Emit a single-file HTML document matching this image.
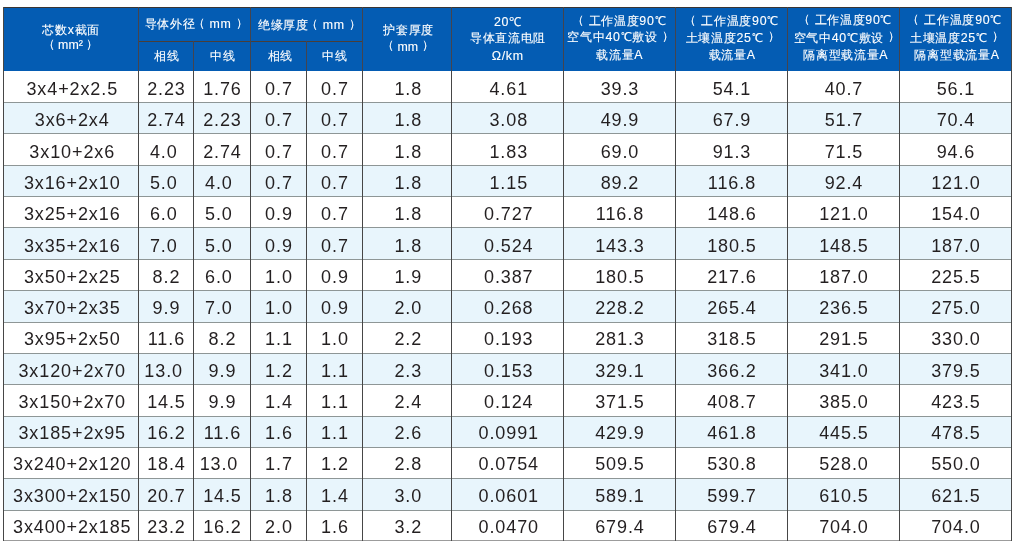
<!DOCTYPE html>
<html><head><meta charset="utf-8"><style>
html,body{margin:0;padding:0;background:#fff;}
body{width:1014px;height:541px;position:relative;overflow:hidden;-webkit-font-smoothing:antialiased;font-family:"Liberation Sans",sans-serif;}
.a{position:absolute;}
#wrap{position:absolute;left:0;top:0;width:1014px;height:541px;will-change:transform;}
.c{position:absolute;display:flex;flex-direction:column;align-items:center;justify-content:center;text-align:center;white-space:nowrap;}
.b{font-size:18px;letter-spacing:0.9px;color:#231f20;}
.h{font-size:12.4px;letter-spacing:0.7px;color:#fff;-webkit-text-stroke:0.12px #fff;}
.pm{margin-left:-3px;}
.ns{letter-spacing:0;}
.h>div{position:relative;height:16px;line-height:16px;margin-right:-0.7px;}
.h3>div{height:16.7px;line-height:16.7px;}
.p{position:relative;top:-1.5px;}
</style></head><body><div id="wrap">

<div class="a" style="left:3px;top:7px;width:1008px;height:64px;background:#045cb3"></div>
<div class="a" style="left:3px;top:102px;width:1008px;height:31px;background:#e8f5fc"></div>
<div class="a" style="left:3px;top:165px;width:1008px;height:31px;background:#e8f5fc"></div>
<div class="a" style="left:3px;top:227px;width:1008px;height:32px;background:#e8f5fc"></div>
<div class="a" style="left:3px;top:290px;width:1008px;height:32px;background:#e8f5fc"></div>
<div class="a" style="left:3px;top:353px;width:1008px;height:31px;background:#e8f5fc"></div>
<div class="a" style="left:3px;top:416px;width:1008px;height:31px;background:#e8f5fc"></div>
<div class="a" style="left:3px;top:478px;width:1008px;height:32px;background:#e8f5fc"></div>
<div class="a" style="left:3px;top:102px;width:1008px;height:1px;background:#8e9696"></div>
<div class="a" style="left:3px;top:133px;width:1008px;height:1px;background:#8e9696"></div>
<div class="a" style="left:3px;top:165px;width:1008px;height:1px;background:#8e9696"></div>
<div class="a" style="left:3px;top:196px;width:1008px;height:1px;background:#8e9696"></div>
<div class="a" style="left:3px;top:227px;width:1008px;height:1px;background:#8e9696"></div>
<div class="a" style="left:3px;top:259px;width:1008px;height:1px;background:#8e9696"></div>
<div class="a" style="left:3px;top:290px;width:1008px;height:1px;background:#8e9696"></div>
<div class="a" style="left:3px;top:322px;width:1008px;height:1px;background:#8e9696"></div>
<div class="a" style="left:3px;top:353px;width:1008px;height:1px;background:#8e9696"></div>
<div class="a" style="left:3px;top:384px;width:1008px;height:1px;background:#8e9696"></div>
<div class="a" style="left:3px;top:416px;width:1008px;height:1px;background:#8e9696"></div>
<div class="a" style="left:3px;top:447px;width:1008px;height:1px;background:#8e9696"></div>
<div class="a" style="left:3px;top:478px;width:1008px;height:1px;background:#8e9696"></div>
<div class="a" style="left:3px;top:510px;width:1008px;height:1px;background:#8e9696"></div>
<div class="a" style="left:3px;top:7px;width:1009px;height:1px;background:#3b3633"></div>
<div class="a" style="left:3px;top:540px;width:1009px;height:1px;background:#9c9c9c"></div>
<div class="a" style="left:138px;top:41px;width:224px;height:1px;background:#4a3e38"></div>
<div class="a" style="left:3px;top:7px;width:1px;height:534px;background:#464646"></div>
<div class="a" style="left:138px;top:7px;width:1px;height:64px;background:#45444d"></div>
<div class="a" style="left:138px;top:71px;width:1px;height:470px;background:#464646"></div>
<div class="a" style="left:193px;top:41px;width:1px;height:30px;background:#45444d"></div>
<div class="a" style="left:193px;top:71px;width:1px;height:470px;background:#464646"></div>
<div class="a" style="left:250px;top:7px;width:1px;height:64px;background:#45444d"></div>
<div class="a" style="left:250px;top:71px;width:1px;height:470px;background:#464646"></div>
<div class="a" style="left:306px;top:41px;width:1px;height:30px;background:#45444d"></div>
<div class="a" style="left:306px;top:71px;width:1px;height:470px;background:#464646"></div>
<div class="a" style="left:362px;top:7px;width:1px;height:64px;background:#45444d"></div>
<div class="a" style="left:362px;top:71px;width:1px;height:470px;background:#464646"></div>
<div class="a" style="left:451px;top:7px;width:1px;height:64px;background:#45444d"></div>
<div class="a" style="left:451px;top:71px;width:1px;height:470px;background:#464646"></div>
<div class="a" style="left:563px;top:7px;width:1px;height:64px;background:#45444d"></div>
<div class="a" style="left:563px;top:71px;width:1px;height:470px;background:#464646"></div>
<div class="a" style="left:675px;top:7px;width:1px;height:64px;background:#45444d"></div>
<div class="a" style="left:675px;top:71px;width:1px;height:470px;background:#464646"></div>
<div class="a" style="left:787px;top:7px;width:1px;height:64px;background:#45444d"></div>
<div class="a" style="left:787px;top:71px;width:1px;height:470px;background:#464646"></div>
<div class="a" style="left:899px;top:7px;width:1px;height:64px;background:#45444d"></div>
<div class="a" style="left:899px;top:71px;width:1px;height:470px;background:#464646"></div>
<div class="a" style="left:1011px;top:7px;width:1px;height:534px;background:#464646"></div>
<div class="c h" style="left:4px;top:8px;width:134px;height:62px;"><div id="c0l1" style="left:-0.20px;top:-1.00px">芯数x截面</div><div id="c0l2" style="left:-0.90px;top:-1.60px"><span class="ns"><span class="p">（</span> mm² <span class="p">）</span></span></div></div>
<div class="c h" style="left:139px;top:8px;width:111px;height:33px;"><div id="g1" style="left:1.70px;top:-0.40px">导体外径<span class="pm"></span><span class="p">（</span> mm <span class="p">）</span></div></div>
<div class="c h" style="left:251px;top:8px;width:111px;height:33px;"><div id="g2" style="left:3.00px;top:0.60px">绝缘厚度<span class="pm"></span><span class="p">（</span> mm <span class="p">）</span></div></div>
<div class="c h" style="left:139px;top:42px;width:54px;height:28px;"><div id="s1" style="left:0.80px;top:0.40px">相线</div></div>
<div class="c h" style="left:194px;top:42px;width:56px;height:28px;"><div id="s2" style="left:0.30px;top:-0.30px">中线</div></div>
<div class="c h" style="left:251px;top:42px;width:55px;height:28px;"><div id="s3" style="left:1.60px;top:-0.30px">相线</div></div>
<div class="c h" style="left:307px;top:42px;width:55px;height:28px;"><div id="s4" style="left:0.10px;top:-0.30px">中线</div></div>
<div class="c h" style="left:363px;top:8px;width:88px;height:62px;"><div id="c5l1" style="left:1.20px;top:-0.90px">护套厚度</div><div id="c5l2" style="left:0.40px;top:-0.40px"><span class="ns"><span class="p">（</span> mm <span class="p">）</span></span></div></div>
<div class="c h h3" style="left:452px;top:8px;width:111px;height:62px;"><div id="c6l1" style="left:0.00px;top:-0.40px">20℃</div><div id="c6l2" style="left:0.10px;top:-0.80px">导体直流电阻</div><div id="c6l3" style="left:-0.10px;top:0.20px">Ω/km</div></div>
<div class="c h h3" style="left:564px;top:8px;width:111px;height:62px;"><div id="c7l1" style="left:-0.90px;top:-0.60px"><span class="p">（</span> 工作温度90℃</div><div id="c7l2" style="left:1.20px;top:-1.20px">空气中40℃敷设 <span class="p">）</span></div><div id="c7l3" style="left:-0.10px;top:-0.40px">载流量A</div></div>
<div class="c h h3" style="left:676px;top:8px;width:111px;height:62px;"><div id="c8l1" style="left:-0.20px;top:-0.60px"><span class="p">（</span> 工作温度90℃</div><div id="c8l2" style="left:1.10px;top:-1.00px">土壤温度25℃ <span class="p">）</span></div><div id="c8l3" style="left:0.30px;top:-0.40px">载流量A</div></div>
<div class="c h h3" style="left:788px;top:8px;width:111px;height:62px;"><div id="c9l1" style="left:1.10px;top:-1.60px"><span class="p">（</span> 工作温度90℃</div><div id="c9l2" style="left:3.40px;top:-1.00px">空气中40℃敷设 <span class="p">）</span></div><div id="c9l3" style="left:1.90px;top:-0.20px">隔离型载流量A</div></div>
<div class="c h h3" style="left:900px;top:8px;width:111px;height:62px;"><div id="c10l1" style="left:-1.10px;top:-1.60px"><span class="p">（</span> 工作温度90℃</div><div id="c10l2" style="left:1.30px;top:-1.00px">土壤温度25℃ <span class="p">）</span></div><div id="c10l3" style="left:1.20px;top:-0.20px">隔离型载流量A</div></div>
<div class="a b" style="left:4.80px;top:79.10px;width:134px;height:20px;line-height:20px;text-align:center;white-space:nowrap"><span style="margin-right:-0.9px">3x4+2x2.5</span></div>
<div class="a b" style="left:139.00px;top:79.10px;width:54px;height:20px;line-height:20px;text-align:center;white-space:nowrap"><span style="margin-right:-0.9px">2.23</span></div>
<div class="a b" style="left:194.00px;top:79.10px;width:56px;height:20px;line-height:20px;text-align:center;white-space:nowrap"><span style="margin-right:-0.9px">1.76</span></div>
<div class="a b" style="left:251.00px;top:79.10px;width:55px;height:20px;line-height:20px;text-align:center;white-space:nowrap"><span style="margin-right:-0.9px">0.7</span></div>
<div class="a b" style="left:307.00px;top:79.10px;width:55px;height:20px;line-height:20px;text-align:center;white-space:nowrap"><span style="margin-right:-0.9px">0.7</span></div>
<div class="a b" style="left:363.80px;top:79.10px;width:88px;height:20px;line-height:20px;text-align:center;white-space:nowrap"><span style="margin-right:-0.9px">1.8</span></div>
<div class="a b" style="left:452.80px;top:79.10px;width:111px;height:20px;line-height:20px;text-align:center;white-space:nowrap"><span style="margin-right:-0.9px">4.61</span></div>
<div class="a b" style="left:564.00px;top:79.10px;width:111px;height:20px;line-height:20px;text-align:center;white-space:nowrap"><span style="margin-right:-0.9px">39.3</span></div>
<div class="a b" style="left:676.00px;top:79.10px;width:111px;height:20px;line-height:20px;text-align:center;white-space:nowrap"><span style="margin-right:-0.9px">54.1</span></div>
<div class="a b" style="left:788.00px;top:79.10px;width:111px;height:20px;line-height:20px;text-align:center;white-space:nowrap"><span style="margin-right:-0.9px">40.7</span></div>
<div class="a b" style="left:900.00px;top:79.10px;width:111px;height:20px;line-height:20px;text-align:center;white-space:nowrap"><span style="margin-right:-0.9px">56.1</span></div>
<div class="a b" style="left:4.80px;top:110.38px;width:134px;height:20px;line-height:20px;text-align:center;white-space:nowrap"><span style="margin-right:-0.9px">3x6+2x4</span></div>
<div class="a b" style="left:139.00px;top:110.38px;width:54px;height:20px;line-height:20px;text-align:center;white-space:nowrap"><span style="margin-right:-0.9px">2.74</span></div>
<div class="a b" style="left:194.00px;top:110.38px;width:56px;height:20px;line-height:20px;text-align:center;white-space:nowrap"><span style="margin-right:-0.9px">2.23</span></div>
<div class="a b" style="left:251.00px;top:110.38px;width:55px;height:20px;line-height:20px;text-align:center;white-space:nowrap"><span style="margin-right:-0.9px">0.7</span></div>
<div class="a b" style="left:307.00px;top:110.38px;width:55px;height:20px;line-height:20px;text-align:center;white-space:nowrap"><span style="margin-right:-0.9px">0.7</span></div>
<div class="a b" style="left:363.80px;top:110.38px;width:88px;height:20px;line-height:20px;text-align:center;white-space:nowrap"><span style="margin-right:-0.9px">1.8</span></div>
<div class="a b" style="left:452.80px;top:110.38px;width:111px;height:20px;line-height:20px;text-align:center;white-space:nowrap"><span style="margin-right:-0.9px">3.08</span></div>
<div class="a b" style="left:564.00px;top:110.38px;width:111px;height:20px;line-height:20px;text-align:center;white-space:nowrap"><span style="margin-right:-0.9px">49.9</span></div>
<div class="a b" style="left:676.00px;top:110.38px;width:111px;height:20px;line-height:20px;text-align:center;white-space:nowrap"><span style="margin-right:-0.9px">67.9</span></div>
<div class="a b" style="left:788.00px;top:110.38px;width:111px;height:20px;line-height:20px;text-align:center;white-space:nowrap"><span style="margin-right:-0.9px">51.7</span></div>
<div class="a b" style="left:900.00px;top:110.38px;width:111px;height:20px;line-height:20px;text-align:center;white-space:nowrap"><span style="margin-right:-0.9px">70.4</span></div>
<div class="a b" style="left:4.80px;top:141.66px;width:134px;height:20px;line-height:20px;text-align:center;white-space:nowrap"><span style="margin-right:-0.9px">3x10+2x6</span></div>
<div class="a b" style="left:136.30px;top:141.66px;width:54px;height:20px;line-height:20px;text-align:center;white-space:nowrap"><span style="margin-right:-0.9px">4.0</span></div>
<div class="a b" style="left:194.00px;top:141.66px;width:56px;height:20px;line-height:20px;text-align:center;white-space:nowrap"><span style="margin-right:-0.9px">2.74</span></div>
<div class="a b" style="left:251.00px;top:141.66px;width:55px;height:20px;line-height:20px;text-align:center;white-space:nowrap"><span style="margin-right:-0.9px">0.7</span></div>
<div class="a b" style="left:307.00px;top:141.66px;width:55px;height:20px;line-height:20px;text-align:center;white-space:nowrap"><span style="margin-right:-0.9px">0.7</span></div>
<div class="a b" style="left:363.80px;top:141.66px;width:88px;height:20px;line-height:20px;text-align:center;white-space:nowrap"><span style="margin-right:-0.9px">1.8</span></div>
<div class="a b" style="left:452.80px;top:141.66px;width:111px;height:20px;line-height:20px;text-align:center;white-space:nowrap"><span style="margin-right:-0.9px">1.83</span></div>
<div class="a b" style="left:564.00px;top:141.66px;width:111px;height:20px;line-height:20px;text-align:center;white-space:nowrap"><span style="margin-right:-0.9px">69.0</span></div>
<div class="a b" style="left:676.00px;top:141.66px;width:111px;height:20px;line-height:20px;text-align:center;white-space:nowrap"><span style="margin-right:-0.9px">91.3</span></div>
<div class="a b" style="left:788.00px;top:141.66px;width:111px;height:20px;line-height:20px;text-align:center;white-space:nowrap"><span style="margin-right:-0.9px">71.5</span></div>
<div class="a b" style="left:900.00px;top:141.66px;width:111px;height:20px;line-height:20px;text-align:center;white-space:nowrap"><span style="margin-right:-0.9px">94.6</span></div>
<div class="a b" style="left:4.80px;top:172.94px;width:134px;height:20px;line-height:20px;text-align:center;white-space:nowrap"><span style="margin-right:-0.9px">3x16+2x10</span></div>
<div class="a b" style="left:136.30px;top:172.94px;width:54px;height:20px;line-height:20px;text-align:center;white-space:nowrap"><span style="margin-right:-0.9px">5.0</span></div>
<div class="a b" style="left:190.40px;top:172.94px;width:56px;height:20px;line-height:20px;text-align:center;white-space:nowrap"><span style="margin-right:-0.9px">4.0</span></div>
<div class="a b" style="left:251.00px;top:172.94px;width:55px;height:20px;line-height:20px;text-align:center;white-space:nowrap"><span style="margin-right:-0.9px">0.7</span></div>
<div class="a b" style="left:307.00px;top:172.94px;width:55px;height:20px;line-height:20px;text-align:center;white-space:nowrap"><span style="margin-right:-0.9px">0.7</span></div>
<div class="a b" style="left:363.80px;top:172.94px;width:88px;height:20px;line-height:20px;text-align:center;white-space:nowrap"><span style="margin-right:-0.9px">1.8</span></div>
<div class="a b" style="left:452.80px;top:172.94px;width:111px;height:20px;line-height:20px;text-align:center;white-space:nowrap"><span style="margin-right:-0.9px">1.15</span></div>
<div class="a b" style="left:564.00px;top:172.94px;width:111px;height:20px;line-height:20px;text-align:center;white-space:nowrap"><span style="margin-right:-0.9px">89.2</span></div>
<div class="a b" style="left:676.00px;top:172.94px;width:111px;height:20px;line-height:20px;text-align:center;white-space:nowrap"><span style="margin-right:-0.9px">116.8</span></div>
<div class="a b" style="left:788.00px;top:172.94px;width:111px;height:20px;line-height:20px;text-align:center;white-space:nowrap"><span style="margin-right:-0.9px">92.4</span></div>
<div class="a b" style="left:900.00px;top:172.94px;width:111px;height:20px;line-height:20px;text-align:center;white-space:nowrap"><span style="margin-right:-0.9px">121.0</span></div>
<div class="a b" style="left:4.80px;top:204.22px;width:134px;height:20px;line-height:20px;text-align:center;white-space:nowrap"><span style="margin-right:-0.9px">3x25+2x16</span></div>
<div class="a b" style="left:136.30px;top:204.22px;width:54px;height:20px;line-height:20px;text-align:center;white-space:nowrap"><span style="margin-right:-0.9px">6.0</span></div>
<div class="a b" style="left:190.40px;top:204.22px;width:56px;height:20px;line-height:20px;text-align:center;white-space:nowrap"><span style="margin-right:-0.9px">5.0</span></div>
<div class="a b" style="left:251.00px;top:204.22px;width:55px;height:20px;line-height:20px;text-align:center;white-space:nowrap"><span style="margin-right:-0.9px">0.9</span></div>
<div class="a b" style="left:307.00px;top:204.22px;width:55px;height:20px;line-height:20px;text-align:center;white-space:nowrap"><span style="margin-right:-0.9px">0.7</span></div>
<div class="a b" style="left:363.80px;top:204.22px;width:88px;height:20px;line-height:20px;text-align:center;white-space:nowrap"><span style="margin-right:-0.9px">1.8</span></div>
<div class="a b" style="left:452.80px;top:204.22px;width:111px;height:20px;line-height:20px;text-align:center;white-space:nowrap"><span style="margin-right:-0.9px">0.727</span></div>
<div class="a b" style="left:564.00px;top:204.22px;width:111px;height:20px;line-height:20px;text-align:center;white-space:nowrap"><span style="margin-right:-0.9px">116.8</span></div>
<div class="a b" style="left:676.00px;top:204.22px;width:111px;height:20px;line-height:20px;text-align:center;white-space:nowrap"><span style="margin-right:-0.9px">148.6</span></div>
<div class="a b" style="left:788.00px;top:204.22px;width:111px;height:20px;line-height:20px;text-align:center;white-space:nowrap"><span style="margin-right:-0.9px">121.0</span></div>
<div class="a b" style="left:900.00px;top:204.22px;width:111px;height:20px;line-height:20px;text-align:center;white-space:nowrap"><span style="margin-right:-0.9px">154.0</span></div>
<div class="a b" style="left:4.80px;top:235.50px;width:134px;height:20px;line-height:20px;text-align:center;white-space:nowrap"><span style="margin-right:-0.9px">3x35+2x16</span></div>
<div class="a b" style="left:136.30px;top:235.50px;width:54px;height:20px;line-height:20px;text-align:center;white-space:nowrap"><span style="margin-right:-0.9px">7.0</span></div>
<div class="a b" style="left:190.40px;top:235.50px;width:56px;height:20px;line-height:20px;text-align:center;white-space:nowrap"><span style="margin-right:-0.9px">5.0</span></div>
<div class="a b" style="left:251.00px;top:235.50px;width:55px;height:20px;line-height:20px;text-align:center;white-space:nowrap"><span style="margin-right:-0.9px">0.9</span></div>
<div class="a b" style="left:307.00px;top:235.50px;width:55px;height:20px;line-height:20px;text-align:center;white-space:nowrap"><span style="margin-right:-0.9px">0.7</span></div>
<div class="a b" style="left:363.80px;top:235.50px;width:88px;height:20px;line-height:20px;text-align:center;white-space:nowrap"><span style="margin-right:-0.9px">1.8</span></div>
<div class="a b" style="left:452.80px;top:235.50px;width:111px;height:20px;line-height:20px;text-align:center;white-space:nowrap"><span style="margin-right:-0.9px">0.524</span></div>
<div class="a b" style="left:564.00px;top:235.50px;width:111px;height:20px;line-height:20px;text-align:center;white-space:nowrap"><span style="margin-right:-0.9px">143.3</span></div>
<div class="a b" style="left:676.00px;top:235.50px;width:111px;height:20px;line-height:20px;text-align:center;white-space:nowrap"><span style="margin-right:-0.9px">180.5</span></div>
<div class="a b" style="left:788.00px;top:235.50px;width:111px;height:20px;line-height:20px;text-align:center;white-space:nowrap"><span style="margin-right:-0.9px">148.5</span></div>
<div class="a b" style="left:900.00px;top:235.50px;width:111px;height:20px;line-height:20px;text-align:center;white-space:nowrap"><span style="margin-right:-0.9px">187.0</span></div>
<div class="a b" style="left:4.80px;top:266.78px;width:134px;height:20px;line-height:20px;text-align:center;white-space:nowrap"><span style="margin-right:-0.9px">3x50+2x25</span></div>
<div class="a b" style="left:139.00px;top:266.78px;width:54px;height:20px;line-height:20px;text-align:center;white-space:nowrap"><span style="margin-right:-0.9px">8.2</span></div>
<div class="a b" style="left:190.40px;top:266.78px;width:56px;height:20px;line-height:20px;text-align:center;white-space:nowrap"><span style="margin-right:-0.9px">6.0</span></div>
<div class="a b" style="left:251.00px;top:266.78px;width:55px;height:20px;line-height:20px;text-align:center;white-space:nowrap"><span style="margin-right:-0.9px">1.0</span></div>
<div class="a b" style="left:307.00px;top:266.78px;width:55px;height:20px;line-height:20px;text-align:center;white-space:nowrap"><span style="margin-right:-0.9px">0.9</span></div>
<div class="a b" style="left:363.80px;top:266.78px;width:88px;height:20px;line-height:20px;text-align:center;white-space:nowrap"><span style="margin-right:-0.9px">1.9</span></div>
<div class="a b" style="left:452.80px;top:266.78px;width:111px;height:20px;line-height:20px;text-align:center;white-space:nowrap"><span style="margin-right:-0.9px">0.387</span></div>
<div class="a b" style="left:564.00px;top:266.78px;width:111px;height:20px;line-height:20px;text-align:center;white-space:nowrap"><span style="margin-right:-0.9px">180.5</span></div>
<div class="a b" style="left:676.00px;top:266.78px;width:111px;height:20px;line-height:20px;text-align:center;white-space:nowrap"><span style="margin-right:-0.9px">217.6</span></div>
<div class="a b" style="left:788.00px;top:266.78px;width:111px;height:20px;line-height:20px;text-align:center;white-space:nowrap"><span style="margin-right:-0.9px">187.0</span></div>
<div class="a b" style="left:900.00px;top:266.78px;width:111px;height:20px;line-height:20px;text-align:center;white-space:nowrap"><span style="margin-right:-0.9px">225.5</span></div>
<div class="a b" style="left:4.80px;top:298.06px;width:134px;height:20px;line-height:20px;text-align:center;white-space:nowrap"><span style="margin-right:-0.9px">3x70+2x35</span></div>
<div class="a b" style="left:139.00px;top:298.06px;width:54px;height:20px;line-height:20px;text-align:center;white-space:nowrap"><span style="margin-right:-0.9px">9.9</span></div>
<div class="a b" style="left:190.40px;top:298.06px;width:56px;height:20px;line-height:20px;text-align:center;white-space:nowrap"><span style="margin-right:-0.9px">7.0</span></div>
<div class="a b" style="left:251.00px;top:298.06px;width:55px;height:20px;line-height:20px;text-align:center;white-space:nowrap"><span style="margin-right:-0.9px">1.0</span></div>
<div class="a b" style="left:307.00px;top:298.06px;width:55px;height:20px;line-height:20px;text-align:center;white-space:nowrap"><span style="margin-right:-0.9px">0.9</span></div>
<div class="a b" style="left:363.80px;top:298.06px;width:88px;height:20px;line-height:20px;text-align:center;white-space:nowrap"><span style="margin-right:-0.9px">2.0</span></div>
<div class="a b" style="left:452.80px;top:298.06px;width:111px;height:20px;line-height:20px;text-align:center;white-space:nowrap"><span style="margin-right:-0.9px">0.268</span></div>
<div class="a b" style="left:564.00px;top:298.06px;width:111px;height:20px;line-height:20px;text-align:center;white-space:nowrap"><span style="margin-right:-0.9px">228.2</span></div>
<div class="a b" style="left:676.00px;top:298.06px;width:111px;height:20px;line-height:20px;text-align:center;white-space:nowrap"><span style="margin-right:-0.9px">265.4</span></div>
<div class="a b" style="left:788.00px;top:298.06px;width:111px;height:20px;line-height:20px;text-align:center;white-space:nowrap"><span style="margin-right:-0.9px">236.5</span></div>
<div class="a b" style="left:900.00px;top:298.06px;width:111px;height:20px;line-height:20px;text-align:center;white-space:nowrap"><span style="margin-right:-0.9px">275.0</span></div>
<div class="a b" style="left:4.80px;top:329.34px;width:134px;height:20px;line-height:20px;text-align:center;white-space:nowrap"><span style="margin-right:-0.9px">3x95+2x50</span></div>
<div class="a b" style="left:139.00px;top:329.34px;width:54px;height:20px;line-height:20px;text-align:center;white-space:nowrap"><span style="margin-right:-0.9px">11.6</span></div>
<div class="a b" style="left:194.00px;top:329.34px;width:56px;height:20px;line-height:20px;text-align:center;white-space:nowrap"><span style="margin-right:-0.9px">8.2</span></div>
<div class="a b" style="left:251.00px;top:329.34px;width:55px;height:20px;line-height:20px;text-align:center;white-space:nowrap"><span style="margin-right:-0.9px">1.1</span></div>
<div class="a b" style="left:307.00px;top:329.34px;width:55px;height:20px;line-height:20px;text-align:center;white-space:nowrap"><span style="margin-right:-0.9px">1.0</span></div>
<div class="a b" style="left:363.80px;top:329.34px;width:88px;height:20px;line-height:20px;text-align:center;white-space:nowrap"><span style="margin-right:-0.9px">2.2</span></div>
<div class="a b" style="left:452.80px;top:329.34px;width:111px;height:20px;line-height:20px;text-align:center;white-space:nowrap"><span style="margin-right:-0.9px">0.193</span></div>
<div class="a b" style="left:564.00px;top:329.34px;width:111px;height:20px;line-height:20px;text-align:center;white-space:nowrap"><span style="margin-right:-0.9px">281.3</span></div>
<div class="a b" style="left:676.00px;top:329.34px;width:111px;height:20px;line-height:20px;text-align:center;white-space:nowrap"><span style="margin-right:-0.9px">318.5</span></div>
<div class="a b" style="left:788.00px;top:329.34px;width:111px;height:20px;line-height:20px;text-align:center;white-space:nowrap"><span style="margin-right:-0.9px">291.5</span></div>
<div class="a b" style="left:900.00px;top:329.34px;width:111px;height:20px;line-height:20px;text-align:center;white-space:nowrap"><span style="margin-right:-0.9px">330.0</span></div>
<div class="a b" style="left:4.80px;top:360.62px;width:134px;height:20px;line-height:20px;text-align:center;white-space:nowrap"><span style="margin-right:-0.9px">3x120+2x70</span></div>
<div class="a b" style="left:136.20px;top:360.62px;width:54px;height:20px;line-height:20px;text-align:center;white-space:nowrap"><span style="margin-right:-0.9px">13.0</span></div>
<div class="a b" style="left:194.00px;top:360.62px;width:56px;height:20px;line-height:20px;text-align:center;white-space:nowrap"><span style="margin-right:-0.9px">9.9</span></div>
<div class="a b" style="left:251.00px;top:360.62px;width:55px;height:20px;line-height:20px;text-align:center;white-space:nowrap"><span style="margin-right:-0.9px">1.2</span></div>
<div class="a b" style="left:307.00px;top:360.62px;width:55px;height:20px;line-height:20px;text-align:center;white-space:nowrap"><span style="margin-right:-0.9px">1.1</span></div>
<div class="a b" style="left:363.80px;top:360.62px;width:88px;height:20px;line-height:20px;text-align:center;white-space:nowrap"><span style="margin-right:-0.9px">2.3</span></div>
<div class="a b" style="left:452.80px;top:360.62px;width:111px;height:20px;line-height:20px;text-align:center;white-space:nowrap"><span style="margin-right:-0.9px">0.153</span></div>
<div class="a b" style="left:564.00px;top:360.62px;width:111px;height:20px;line-height:20px;text-align:center;white-space:nowrap"><span style="margin-right:-0.9px">329.1</span></div>
<div class="a b" style="left:676.00px;top:360.62px;width:111px;height:20px;line-height:20px;text-align:center;white-space:nowrap"><span style="margin-right:-0.9px">366.2</span></div>
<div class="a b" style="left:788.00px;top:360.62px;width:111px;height:20px;line-height:20px;text-align:center;white-space:nowrap"><span style="margin-right:-0.9px">341.0</span></div>
<div class="a b" style="left:900.00px;top:360.62px;width:111px;height:20px;line-height:20px;text-align:center;white-space:nowrap"><span style="margin-right:-0.9px">379.5</span></div>
<div class="a b" style="left:4.80px;top:391.90px;width:134px;height:20px;line-height:20px;text-align:center;white-space:nowrap"><span style="margin-right:-0.9px">3x150+2x70</span></div>
<div class="a b" style="left:139.00px;top:391.90px;width:54px;height:20px;line-height:20px;text-align:center;white-space:nowrap"><span style="margin-right:-0.9px">14.5</span></div>
<div class="a b" style="left:194.00px;top:391.90px;width:56px;height:20px;line-height:20px;text-align:center;white-space:nowrap"><span style="margin-right:-0.9px">9.9</span></div>
<div class="a b" style="left:251.00px;top:391.90px;width:55px;height:20px;line-height:20px;text-align:center;white-space:nowrap"><span style="margin-right:-0.9px">1.4</span></div>
<div class="a b" style="left:307.00px;top:391.90px;width:55px;height:20px;line-height:20px;text-align:center;white-space:nowrap"><span style="margin-right:-0.9px">1.1</span></div>
<div class="a b" style="left:363.80px;top:391.90px;width:88px;height:20px;line-height:20px;text-align:center;white-space:nowrap"><span style="margin-right:-0.9px">2.4</span></div>
<div class="a b" style="left:452.80px;top:391.90px;width:111px;height:20px;line-height:20px;text-align:center;white-space:nowrap"><span style="margin-right:-0.9px">0.124</span></div>
<div class="a b" style="left:564.00px;top:391.90px;width:111px;height:20px;line-height:20px;text-align:center;white-space:nowrap"><span style="margin-right:-0.9px">371.5</span></div>
<div class="a b" style="left:676.00px;top:391.90px;width:111px;height:20px;line-height:20px;text-align:center;white-space:nowrap"><span style="margin-right:-0.9px">408.7</span></div>
<div class="a b" style="left:788.00px;top:391.90px;width:111px;height:20px;line-height:20px;text-align:center;white-space:nowrap"><span style="margin-right:-0.9px">385.0</span></div>
<div class="a b" style="left:900.00px;top:391.90px;width:111px;height:20px;line-height:20px;text-align:center;white-space:nowrap"><span style="margin-right:-0.9px">423.5</span></div>
<div class="a b" style="left:4.80px;top:423.18px;width:134px;height:20px;line-height:20px;text-align:center;white-space:nowrap"><span style="margin-right:-0.9px">3x185+2x95</span></div>
<div class="a b" style="left:139.00px;top:423.18px;width:54px;height:20px;line-height:20px;text-align:center;white-space:nowrap"><span style="margin-right:-0.9px">16.2</span></div>
<div class="a b" style="left:194.00px;top:423.18px;width:56px;height:20px;line-height:20px;text-align:center;white-space:nowrap"><span style="margin-right:-0.9px">11.6</span></div>
<div class="a b" style="left:251.00px;top:423.18px;width:55px;height:20px;line-height:20px;text-align:center;white-space:nowrap"><span style="margin-right:-0.9px">1.6</span></div>
<div class="a b" style="left:307.00px;top:423.18px;width:55px;height:20px;line-height:20px;text-align:center;white-space:nowrap"><span style="margin-right:-0.9px">1.1</span></div>
<div class="a b" style="left:363.80px;top:423.18px;width:88px;height:20px;line-height:20px;text-align:center;white-space:nowrap"><span style="margin-right:-0.9px">2.6</span></div>
<div class="a b" style="left:452.80px;top:423.18px;width:111px;height:20px;line-height:20px;text-align:center;white-space:nowrap"><span style="margin-right:-0.9px">0.0991</span></div>
<div class="a b" style="left:564.00px;top:423.18px;width:111px;height:20px;line-height:20px;text-align:center;white-space:nowrap"><span style="margin-right:-0.9px">429.9</span></div>
<div class="a b" style="left:676.00px;top:423.18px;width:111px;height:20px;line-height:20px;text-align:center;white-space:nowrap"><span style="margin-right:-0.9px">461.8</span></div>
<div class="a b" style="left:788.00px;top:423.18px;width:111px;height:20px;line-height:20px;text-align:center;white-space:nowrap"><span style="margin-right:-0.9px">445.5</span></div>
<div class="a b" style="left:900.00px;top:423.18px;width:111px;height:20px;line-height:20px;text-align:center;white-space:nowrap"><span style="margin-right:-0.9px">478.5</span></div>
<div class="a b" style="left:4.80px;top:454.46px;width:134px;height:20px;line-height:20px;text-align:center;white-space:nowrap"><span style="margin-right:-0.9px">3x240+2x120</span></div>
<div class="a b" style="left:139.00px;top:454.46px;width:54px;height:20px;line-height:20px;text-align:center;white-space:nowrap"><span style="margin-right:-0.9px">18.4</span></div>
<div class="a b" style="left:190.50px;top:454.46px;width:56px;height:20px;line-height:20px;text-align:center;white-space:nowrap"><span style="margin-right:-0.9px">13.0</span></div>
<div class="a b" style="left:251.00px;top:454.46px;width:55px;height:20px;line-height:20px;text-align:center;white-space:nowrap"><span style="margin-right:-0.9px">1.7</span></div>
<div class="a b" style="left:307.00px;top:454.46px;width:55px;height:20px;line-height:20px;text-align:center;white-space:nowrap"><span style="margin-right:-0.9px">1.2</span></div>
<div class="a b" style="left:363.80px;top:454.46px;width:88px;height:20px;line-height:20px;text-align:center;white-space:nowrap"><span style="margin-right:-0.9px">2.8</span></div>
<div class="a b" style="left:452.80px;top:454.46px;width:111px;height:20px;line-height:20px;text-align:center;white-space:nowrap"><span style="margin-right:-0.9px">0.0754</span></div>
<div class="a b" style="left:564.00px;top:454.46px;width:111px;height:20px;line-height:20px;text-align:center;white-space:nowrap"><span style="margin-right:-0.9px">509.5</span></div>
<div class="a b" style="left:676.00px;top:454.46px;width:111px;height:20px;line-height:20px;text-align:center;white-space:nowrap"><span style="margin-right:-0.9px">530.8</span></div>
<div class="a b" style="left:788.00px;top:454.46px;width:111px;height:20px;line-height:20px;text-align:center;white-space:nowrap"><span style="margin-right:-0.9px">528.0</span></div>
<div class="a b" style="left:900.00px;top:454.46px;width:111px;height:20px;line-height:20px;text-align:center;white-space:nowrap"><span style="margin-right:-0.9px">550.0</span></div>
<div class="a b" style="left:4.80px;top:485.74px;width:134px;height:20px;line-height:20px;text-align:center;white-space:nowrap"><span style="margin-right:-0.9px">3x300+2x150</span></div>
<div class="a b" style="left:139.00px;top:485.74px;width:54px;height:20px;line-height:20px;text-align:center;white-space:nowrap"><span style="margin-right:-0.9px">20.7</span></div>
<div class="a b" style="left:194.00px;top:485.74px;width:56px;height:20px;line-height:20px;text-align:center;white-space:nowrap"><span style="margin-right:-0.9px">14.5</span></div>
<div class="a b" style="left:251.00px;top:485.74px;width:55px;height:20px;line-height:20px;text-align:center;white-space:nowrap"><span style="margin-right:-0.9px">1.8</span></div>
<div class="a b" style="left:307.00px;top:485.74px;width:55px;height:20px;line-height:20px;text-align:center;white-space:nowrap"><span style="margin-right:-0.9px">1.4</span></div>
<div class="a b" style="left:363.80px;top:485.74px;width:88px;height:20px;line-height:20px;text-align:center;white-space:nowrap"><span style="margin-right:-0.9px">3.0</span></div>
<div class="a b" style="left:452.80px;top:485.74px;width:111px;height:20px;line-height:20px;text-align:center;white-space:nowrap"><span style="margin-right:-0.9px">0.0601</span></div>
<div class="a b" style="left:564.00px;top:485.74px;width:111px;height:20px;line-height:20px;text-align:center;white-space:nowrap"><span style="margin-right:-0.9px">589.1</span></div>
<div class="a b" style="left:676.00px;top:485.74px;width:111px;height:20px;line-height:20px;text-align:center;white-space:nowrap"><span style="margin-right:-0.9px">599.7</span></div>
<div class="a b" style="left:788.00px;top:485.74px;width:111px;height:20px;line-height:20px;text-align:center;white-space:nowrap"><span style="margin-right:-0.9px">610.5</span></div>
<div class="a b" style="left:900.00px;top:485.74px;width:111px;height:20px;line-height:20px;text-align:center;white-space:nowrap"><span style="margin-right:-0.9px">621.5</span></div>
<div class="a b" style="left:4.80px;top:517.02px;width:134px;height:20px;line-height:20px;text-align:center;white-space:nowrap"><span style="margin-right:-0.9px">3x400+2x185</span></div>
<div class="a b" style="left:139.00px;top:517.02px;width:54px;height:20px;line-height:20px;text-align:center;white-space:nowrap"><span style="margin-right:-0.9px">23.2</span></div>
<div class="a b" style="left:194.00px;top:517.02px;width:56px;height:20px;line-height:20px;text-align:center;white-space:nowrap"><span style="margin-right:-0.9px">16.2</span></div>
<div class="a b" style="left:251.00px;top:517.02px;width:55px;height:20px;line-height:20px;text-align:center;white-space:nowrap"><span style="margin-right:-0.9px">2.0</span></div>
<div class="a b" style="left:307.00px;top:517.02px;width:55px;height:20px;line-height:20px;text-align:center;white-space:nowrap"><span style="margin-right:-0.9px">1.6</span></div>
<div class="a b" style="left:363.80px;top:517.02px;width:88px;height:20px;line-height:20px;text-align:center;white-space:nowrap"><span style="margin-right:-0.9px">3.2</span></div>
<div class="a b" style="left:452.80px;top:517.02px;width:111px;height:20px;line-height:20px;text-align:center;white-space:nowrap"><span style="margin-right:-0.9px">0.0470</span></div>
<div class="a b" style="left:564.00px;top:517.02px;width:111px;height:20px;line-height:20px;text-align:center;white-space:nowrap"><span style="margin-right:-0.9px">679.4</span></div>
<div class="a b" style="left:676.00px;top:517.02px;width:111px;height:20px;line-height:20px;text-align:center;white-space:nowrap"><span style="margin-right:-0.9px">679.4</span></div>
<div class="a b" style="left:788.00px;top:517.02px;width:111px;height:20px;line-height:20px;text-align:center;white-space:nowrap"><span style="margin-right:-0.9px">704.0</span></div>
<div class="a b" style="left:900.00px;top:517.02px;width:111px;height:20px;line-height:20px;text-align:center;white-space:nowrap"><span style="margin-right:-0.9px">704.0</span></div>
</div></body></html>
